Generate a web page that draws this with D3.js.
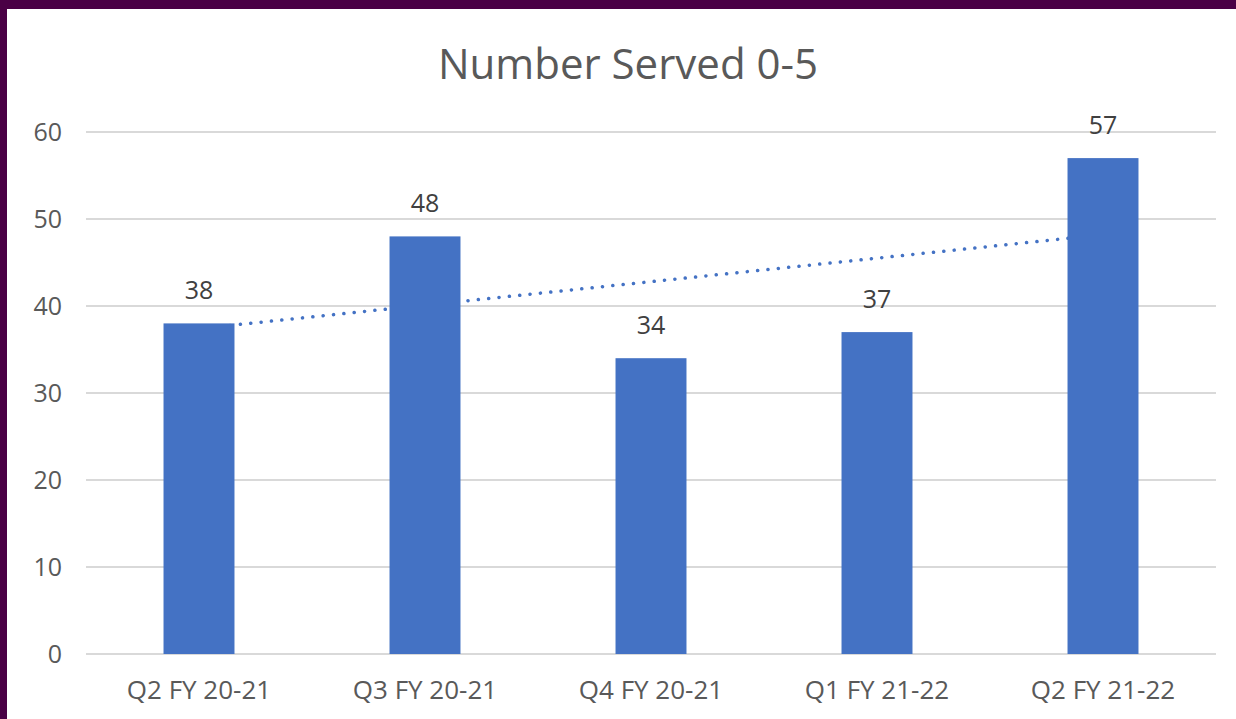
<!DOCTYPE html>
<html>
<head>
<meta charset="utf-8">
<script src="https://cdn.jsdelivr.net/npm/d3@7"></script>
<style>
  body { margin: 0; background: #4a0045; }
  #chart { position: absolute; left: 7px; top: 9px; }
  text { font-family: "Open Sans", "Liberation Sans", sans-serif; fill: #595959; }
</style>
</head>
<body>
<div id="chart"></div>
<script>
var categories = ["Q2 FY 20-21", "Q3 FY 20-21", "Q4 FY 20-21", "Q1 FY 21-22", "Q2 FY 21-22"];
var values = [38, 48, 34, 37, 57];
var yTicks = [0, 10, 20, 30, 40, 50, 60];

function init() {
    var w = 1229;
    var h = 710;
    var ox = 7, oy = 9; // offset of the white panel in the page
    var left = 86 - ox, right = 1216 - ox;
    var top = 132 - oy, bottom = 654 - oy;

    var svg = d3.select("#chart")
        .append("svg")
        .attr("width", w)
        .attr("height", h)
        .style("background", "#fff");

    var x = d3.scaleBand()
        .domain(categories)
        .range([left, right])
        .paddingInner(0.686)
        .paddingOuter(0.343);

    var y = d3.scaleLinear()
        .domain([0, 60])
        .range([bottom, top]);

    // gridlines
    svg.append("g")
        .selectAll("line")
        .data(yTicks)
        .enter()
        .append("line")
        .attr("x1", left)
        .attr("x2", right)
        .attr("y1", function(d) { return y(d); })
        .attr("y2", function(d) { return y(d); })
        .attr("stroke", "#d9d9d9")
        .attr("stroke-width", 2);

    // y labels
    svg.append("g")
        .selectAll("text")
        .data(yTicks)
        .enter()
        .append("text")
        .attr("x", 62 - ox)
        .attr("y", function(d) { return y(d); })
        .attr("dy", "0.35em")
        .attr("text-anchor", "end")
        .style("font-size", "25px")
        .text(function(d) { return d; });

    // linear trendline (least squares over category index)
    var n = values.length;
    var mx = d3.mean(values, function(d, i) { return i + 1; });
    var my = d3.mean(values);
    var num = 0, den = 0;
    values.forEach(function(v, i) {
        num += (i + 1 - mx) * (v - my);
        den += (i + 1 - mx) * (i + 1 - mx);
    });
    var slope = num / den;
    var intercept = my - slope * mx;
    var trend = categories.map(function(c, i) {
        return { cat: c, v: intercept + slope * (i + 1) };
    });
    var line = d3.line()
        .x(function(d) { return x(d.cat) + x.bandwidth() / 2; })
        .y(function(d) { return y(d.v); });
    svg.append("path")
        .datum([trend[0], trend[n - 1]])
        .attr("d", line)
        .attr("fill", "none")
        .attr("stroke", "#4472c4")
        .attr("stroke-width", 3.5)
        .attr("stroke-linecap", "round")
        .attr("stroke-dasharray", "0.1 10.3");

    // bars
    svg.append("g")
        .selectAll("rect")
        .data(values)
        .enter()
        .append("rect")
        .attr("x", function(d, i) { return x(categories[i]); })
        .attr("y", function(d) { return y(d); })
        .attr("width", x.bandwidth())
        .attr("height", function(d) { return bottom - y(d); })
        .attr("fill", "#4472c4");

    // data labels
    svg.append("g")
        .selectAll("text")
        .data(values)
        .enter()
        .append("text")
        .attr("x", function(d, i) { return x(categories[i]) + x.bandwidth() / 2; })
        .attr("y", function(d) { return y(d) - 33; })
        .attr("dy", "0.35em")
        .attr("text-anchor", "middle")
        .style("font-size", "25px")
        .style("fill", "#404040")
        .text(function(d) { return d; });

    // x labels
    svg.append("g")
        .selectAll("text")
        .data(categories)
        .enter()
        .append("text")
        .attr("x", function(d) { return x(d) + x.bandwidth() / 2; })
        .attr("y", 690 - oy)
        .attr("dy", "0.35em")
        .attr("text-anchor", "middle")
        .style("font-size", "26px")
        .text(function(d) { return d; });

    // title
    svg.append("text")
        .attr("x", 628 - ox)
        .attr("y", 64 - oy)
        .attr("dy", "0.35em")
        .attr("text-anchor", "middle")
        .style("font-size", "42px")
        .text("Number Served 0-5");
}
window.onload = init;
</script>
</body>
</html>
